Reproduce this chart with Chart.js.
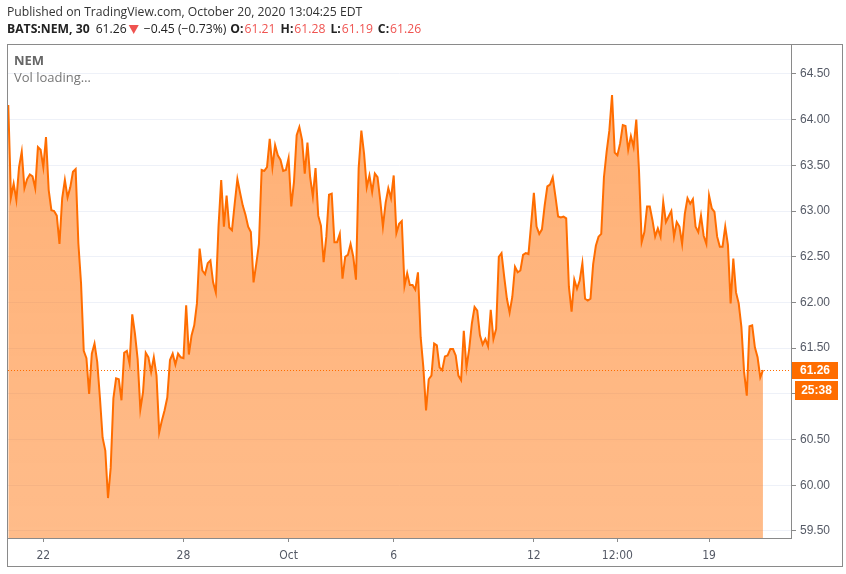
<!DOCTYPE html>
<html>
<head>
<meta charset="utf-8">
<script src="https://cdn.jsdelivr.net/npm/chart.js@4.4.1/dist/chart.umd.min.js"></script>
<style>
  html, body { margin: 0; padding: 0; background: #fff; }
  #wrap { width: 846px; height: 574px; }
</style>
</head>
<body>
<div id="wrap"><canvas id="chart" width="846" height="574"></canvas></div>
<script>
// NEM 30 min closes, Sep 21 -> Oct 20 2020
const closes = [
  64.16, 63.15, 63.30, 63.12, 63.48, 63.65, 63.25, 63.35, 63.40, 63.38,
  63.25, 63.70, 63.67, 63.48, 63.81, 63.23, 63.01, 63.00, 62.95, 62.64,
  63.14, 63.34, 63.15, 63.26, 63.43, 63.46, 62.65, 62.21, 61.47, 61.39,
  61.00, 61.44, 61.55, 61.35, 60.96, 60.52, 60.38, 59.86, 60.19, 60.95,
  61.17, 61.16, 60.93, 61.45, 61.47, 61.33, 61.87, 61.66, 61.38, 60.83,
  61.02, 61.45, 61.40, 61.24, 61.40, 61.20, 60.58, 60.71, 60.82, 60.96,
  61.37, 61.44, 61.32, 61.44, 61.40, 61.39, 61.97, 61.43, 61.64, 61.75,
  61.99, 62.59,
  62.35, 62.31, 62.43, 62.46, 62.22, 62.11, 62.83, 63.34, 62.83, 63.17,
  62.82, 62.79, 63.08, 63.35, 63.20, 63.06, 62.96, 62.83, 62.77, 62.22,
  62.42, 62.64, 63.45, 63.44, 63.48, 63.79, 63.48, 63.72, 63.61, 63.56,
  63.44, 63.45, 63.58, 63.05, 63.32, 63.83, 63.92, 63.78, 63.41, 63.75,
  63.37, 63.16, 63.47, 62.95, 62.84, 62.44, 62.72, 63.18, 63.19, 62.66,
  62.66, 62.75, 62.26, 62.50, 62.52, 62.64, 62.50, 62.25, 63.47, 63.88,
  63.63, 63.26, 63.39, 63.21, 63.41, 63.37, 63.12, 62.83, 63.09, 63.25,
  63.14, 63.39, 62.76, 62.86, 62.89, 62.18, 62.32, 62.19, 62.19, 62.14,
  62.33,
  61.62, 61.29, 60.82, 61.16, 61.20, 61.55, 61.53, 61.29, 61.26, 61.41,
  61.42, 61.49, 61.49, 61.42, 61.20, 61.15, 61.69, 61.29, 61.49, 61.77,
  61.95, 61.91, 61.64, 61.54, 61.60, 61.52, 61.92, 61.60, 61.71, 62.50,
  62.54, 62.28, 62.04, 61.89, 62.06, 62.39, 62.33, 62.35, 62.52, 62.54,
  62.53, 62.86, 63.20, 62.83, 62.75, 62.80, 63.06, 63.27, 63.29, 63.37,
  63.16, 62.94, 62.93, 62.94, 62.92, 62.17, 61.90, 62.25, 62.15, 62.24,
  62.43, 62.04, 62.02, 62.04, 62.42, 62.62, 62.72, 62.75, 63.37, 63.65,
  63.88,
  64.27, 63.64, 63.61, 63.74, 63.94, 63.93, 63.67, 63.82, 63.70, 64.00,
  63.45, 62.66, 62.77, 63.05, 63.05, 62.90, 62.72, 62.81, 62.72, 63.10,
  62.88, 62.94, 63.00, 62.72, 62.88, 62.83, 62.64, 62.97, 63.14, 63.08,
  63.13, 62.83, 62.77, 62.95, 62.73, 62.64, 63.17, 63.03, 62.99, 62.72,
  62.61, 62.61, 62.83, 62.63, 61.99, 62.48, 62.11, 61.99, 61.73, 61.24,
  60.98, 61.74, 61.75, 61.51, 61.40, 61.18, 61.26
];

// time axis: bar index where each label sits
const tickBars = [13, 65, 104, 143, 195, 226, 260];
const tickLabels = ["22", "28", "Oct", "6", "12", "12:00", "19"];
const priceTicks = [59.5, 60, 60.5, 61, 61.5, 62, 62.5, 63, 63.5, 64, 64.5];

const lastPrice = 61.26;
const countdown = "25:38";
const ohlc = [["O:", "61.21"], ["H:", "61.28"], ["L:", "61.19"], ["C:", "61.26"]];

const orange = "#ff6d00";
const red = "#ef5350";
const frameColor = "#8a8a8a";
const axisText = "#555a66";
const headFont = "12.2px 'Open Sans'";
const headBold = "bold 12.2px 'Open Sans'";

const overlay = {
    id: "overlay",
    afterDatasetsDraw(chart) {
        const { ctx, chartArea: a, scales: { y } } = chart;
        const py = Math.round(y.getPixelForValue(lastPrice)) + 0.5;
        ctx.save();
        ctx.strokeStyle = orange;
        ctx.lineWidth = 1;
        ctx.setLineDash([1, 2]);
        ctx.beginPath();
        ctx.moveTo(a.left, py);
        ctx.lineTo(a.right, py);
        ctx.stroke();
        ctx.restore();
    },
    afterDraw(chart) {
        const { ctx, chartArea: a, scales: { y } } = chart;
        ctx.save();

        // outer frame
        ctx.strokeStyle = frameColor;
        ctx.lineWidth = 1;
        ctx.strokeRect(7.5, 44.5, 835, 522);

        // header lines
        ctx.textBaseline = "middle";
        ctx.textAlign = "left";
        ctx.fillStyle = "#333";
        ctx.font = headFont;
        ctx.fillText("Published on TradingView.com, October 20, 2020 13:04:25 EDT", 7, 13);

        let x = 7;
        const put = (txt, font, color, gap) => {
            ctx.font = font;
            ctx.fillStyle = color;
            ctx.fillText(txt, x, 30);
            x += ctx.measureText(txt).width + gap;
        };
        put("BATS:NEM, 30", headBold, "#222", 6);
        put("61.26", headFont, "#222", 2);
        // down triangle
        ctx.fillStyle = red;
        ctx.beginPath();
        ctx.moveTo(x, 25);
        ctx.lineTo(x + 10, 25);
        ctx.lineTo(x + 5, 34);
        ctx.closePath();
        ctx.fill();
        x += 15;
        put("\u22120.45 (\u22120.73%)", headFont, "#222", 4);
        ohlc.forEach(([k, v]) => {
            put(k, headBold, "#222", 1);
            put(v, headFont, red, 5);
        });

        // legend inside pane
        ctx.font = "bold 13px 'Open Sans'";
        ctx.fillStyle = "#666";
        ctx.fillText("NEM", 14, 61);
        ctx.font = "13px 'Open Sans'";
        ctx.fillStyle = "#777";
        ctx.fillText("Vol loading\u2026", 14, 78);

        // last price + countdown labels
        const py = Math.round(y.getPixelForValue(lastPrice));
        ctx.fillStyle = orange;
        ctx.fillRect(a.right + 1, py - 8, 46, 17);
        ctx.fillRect(a.right + 4, py + 11, 43, 19);
        ctx.fillStyle = "#fff";
        ctx.font = "bold 12px 'Liberation Sans'";
        ctx.textAlign = "center";
        ctx.fillText(lastPrice.toFixed(2), a.right + 24, py + 1);
        ctx.fillText(countdown, a.right + 25.5, py + 21);
        ctx.restore();
    }
};

new Chart(document.getElementById("chart"), {
    type: "line",
    data: {
        datasets: [{
            data: closes.map((c, i) => ({ x: i, y: c })),
            borderColor: orange,
            borderWidth: 2,
            pointRadius: 0,
            tension: 0,
            fill: "start",
            backgroundColor: (context) => {
                const area = context.chart.chartArea;
                if (!area) return "rgba(255,109,0,0.5)";
                const g = context.chart.ctx.createLinearGradient(0, area.top, 0, area.bottom);
                g.addColorStop(0, "rgba(255,109,0,0.55)");
                g.addColorStop(1, "rgba(255,109,0,0.46)");
                return g;
            }
        }]
    },
    options: {
        responsive: false,
        animation: false,
        devicePixelRatio: 1,
        layout: { padding: { top: 45, left: 8, right: 0, bottom: 0 } },
        plugins: { legend: { display: false }, tooltip: { enabled: false } },
        scales: {
            x: {
                type: "linear",
                min: -0.1,
                max: 290.4,
                afterBuildTicks: (axis) => { axis.ticks = tickBars.map(v => ({ value: v })); },
                afterFit: (axis) => {
                    axis.height = 36;
                    axis.paddingLeft = 0; axis.paddingRight = 0;
                },
                ticks: {
                    autoSkip: false,
                    maxRotation: 0,
                    padding: 7,
                    color: axisText,
                    font: { family: "'Liberation Sans Narrow', 'DejaVu Sans Condensed', 'Liberation Sans'", size: 12 },
                    callback: (v) => tickLabels[tickBars.indexOf(v)]
                },
                grid: { drawOnChartArea: false, drawTicks: true, tickLength: 4, tickColor: frameColor },
                border: { display: true, color: frameColor }
            },
            y: {
                position: "right",
                min: 59.423,
                max: 64.817,
                afterBuildTicks: (axis) => { axis.ticks = priceTicks.map(v => ({ value: v })); },
                afterFit: (axis) => {
                    axis.width = 55;
                    axis.paddingTop = 0; axis.paddingBottom = 0;
                },
                ticks: {
                    padding: 4,
                    color: axisText,
                    font: { family: "'Liberation Sans'", size: 12 },
                    callback: (v) => v.toFixed(2)
                },
                grid: { color: "#eef1f8", drawTicks: true, tickLength: 5, tickColor: frameColor },
                border: { display: true, color: frameColor }
            }
        }
    },
    plugins: [overlay]
});
</script>
</body>
</html>
